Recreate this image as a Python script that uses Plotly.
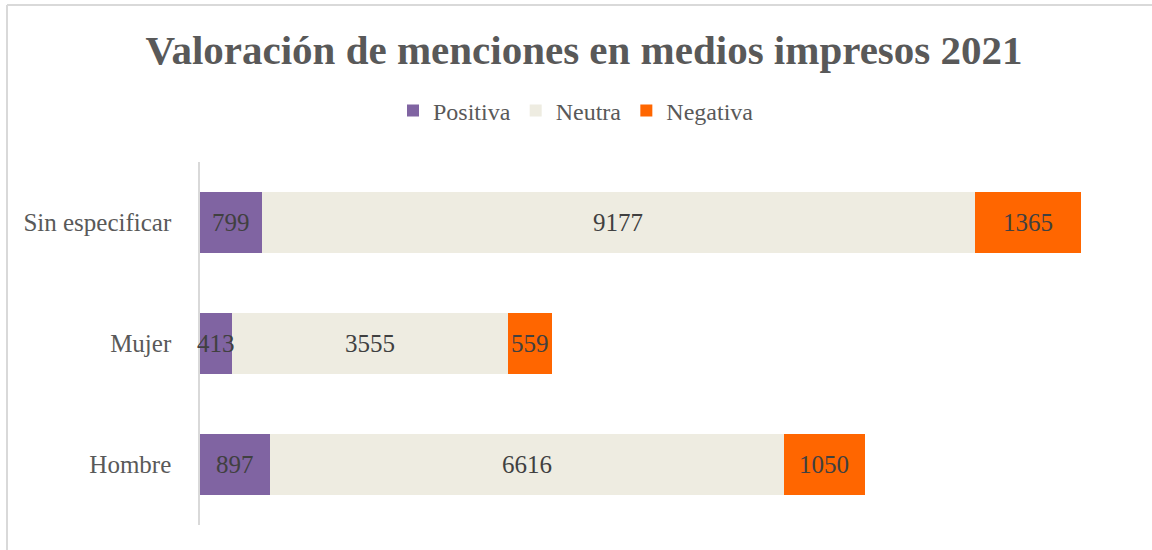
import plotly.graph_objects as go

categories = ["Hombre", "Mujer", "Sin especificar"]
positiva = [897, 413, 799]
neutra = [6616, 3555, 9177]
negativa = [1050, 559, 1365]

series = [
    ("Positiva", positiva, "#8064A2"),
    ("Neutra", neutra, "#EEECE1"),
    ("Negativa", negativa, "#FF6600"),
]

FONT = "Liberation Serif"
W, H = 1152, 550
L, R, T, B = 200, 20, 162, 25

fig = go.Figure()
for name, vals, col in series:
    fig.add_trace(go.Bar(
        y=categories, x=vals, name=name, orientation="h",
        marker=dict(color=col, line=dict(width=0)),
        hoverinfo="x+name",
    ))

# data labels centered on each segment
annotations = []
for i, cat in enumerate(categories):
    start = 0
    for name, vals, col in series:
        v = vals[i]
        annotations.append(dict(
            x=start + v / 2, y=cat, xref="x", yref="y", text=str(v),
            showarrow=False, xanchor="center", yanchor="middle",
            font=dict(family=FONT, size=25, color="#404040")))
        start += v

pw = W - L - R
ph = H - T - B
def px_x(p):
    return (p - L) / pw
def px_y(p):
    return (H - B - p) / ph

fig.update_layout(
    barmode="stack",
    bargap=0.49,
    width=W, height=H,
    margin=dict(l=L, r=R, t=T, b=B),
    paper_bgcolor="white", plot_bgcolor="white",
    font=dict(family=FONT, color="#595959"),
    title=dict(text="<b>Valoración de menciones en medios impresos 2021</b>",
               font=dict(family=FONT, size=41, color="#595959"),
               xref="container", x=0.507, xanchor="center",
               yref="container", y=1 - 50 / 550, yanchor="middle"),
    legend=dict(orientation="h", xref="container", x=0.5, xanchor="center",
                yref="container", y=1 - 111 / 550, yanchor="middle",
                font=dict(family=FONT, size=24, color="#595959"),
                traceorder="normal", itemwidth=30),
    xaxis=dict(range=[0, 12000], showgrid=False, showticklabels=False,
               zeroline=False, showline=False, fixedrange=True),
    yaxis=dict(showgrid=False, showline=True, linecolor="#D9D9D9", linewidth=1.5,
               ticks="", ticklabelstandoff=22,
               tickfont=dict(family=FONT, size=25, color="#595959")),
    showlegend=True,
    annotations=annotations,
    shapes=[
        dict(type="line", xref="paper", yref="paper",
             x0=px_x(7), x1=px_x(7), y0=px_y(5), y1=px_y(H + 5),
             line=dict(color="#D9D9D9", width=2)),
        dict(type="line", xref="paper", yref="paper",
             x0=px_x(7), x1=px_x(W + 5), y0=px_y(5), y1=px_y(5),
             line=dict(color="#D9D9D9", width=2)),
    ],
)

fig.write_html("out.html", config={"displayModeBar": False},
               post_script="document.body.style.margin='0';document.body.style.padding='0';")
